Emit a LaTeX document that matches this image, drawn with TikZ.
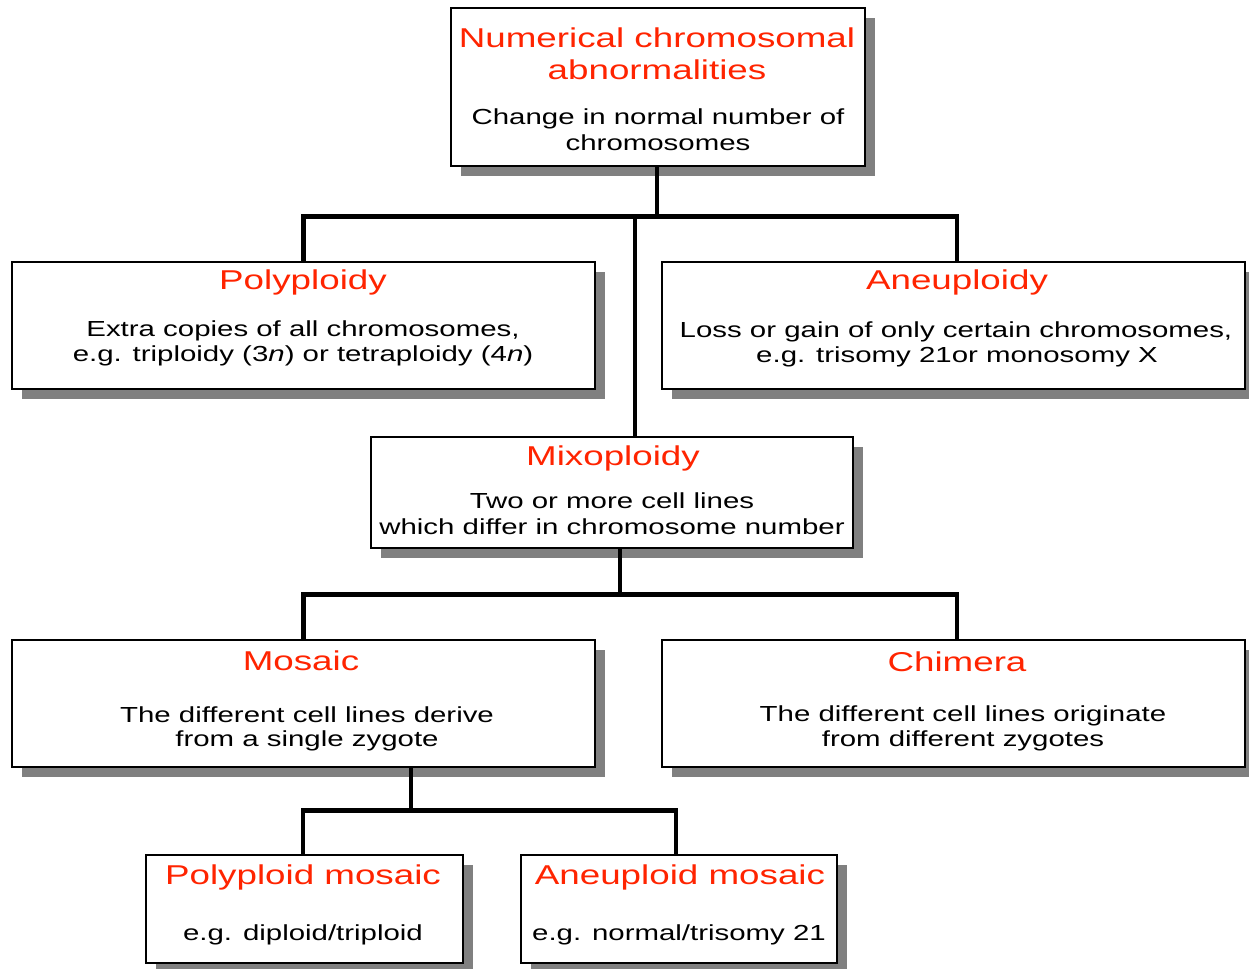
\documentclass[tikz,border=0pt]{standalone}
\usepackage{fontspec}
\setmainfont{Liberation Sans}[FakeStretch=1.35]
\usetikzlibrary{shadows}
\definecolor{titred}{RGB}{255,36,0}
\definecolor{shad}{RGB}{128,128,128}
\begin{document}
\begin{tikzpicture}[x=0.02cm,y=-0.02cm,
  box/.style={draw=black,line width=0.8pt,fill=white,inner sep=0pt,
    drop shadow={shadow xshift=0.2cm,shadow yshift=-0.2cm,fill=shad,opacity=1}},
  conn/.style={line width=2.8pt,black},
  ttl/.style={anchor=base,inner sep=0pt,text=titred,font=\fontsize{15.5}{18}\selectfont},
  txt/.style={anchor=base,inner sep=0pt,text=black,font=\fontsize{12.4}{15}\selectfont}]
\useasboundingbox (0,0) rectangle (1249,969);
\fill[white] (0,0) rectangle (1249,969);
% boxes
\node[box,minimum width=8.28cm,minimum height=3.16cm] (top) at (658,87) {};
\node[box,minimum width=11.66cm,minimum height=2.54cm] (poly) at (303.5,325.5) {};
\node[box,minimum width=11.66cm,minimum height=2.54cm] (aneu) at (953.5,325.5) {};
\node[box,minimum width=9.64cm,minimum height=2.22cm] (mixo) at (612,492.5) {};
\node[box,minimum width=11.66cm,minimum height=2.54cm] (mosaic) at (303.5,703.5) {};
\node[box,minimum width=11.66cm,minimum height=2.54cm] (chim) at (953.5,703.5) {};
\node[box,minimum width=6.34cm,minimum height=2.16cm] (pmos) at (304.5,909) {};
\node[box,minimum width=6.32cm,minimum height=2.16cm] (amos) at (679,909) {};
% connectors
\coordinate (j1) at (635,217);
\coordinate (j2) at (620,595);
\coordinate (j3) at (411,811);
\draw[conn] (poly.north) -- ++(0,-45) -| ([xshift=0.07cm]aneu.north);
\draw[conn] (top.south -| 657,0) -- (j1 -| 657,0);
\draw[conn] (j1) -- (j1 |- mixo.north);
\draw[conn] (j2 |- mixo.south) -- (j2);
\draw[conn] (mosaic.north) -- ++(0,-45) -| ([xshift=0.07cm]chim.north);
\draw[conn] (j3 |- mosaic.south) -- (j3);
\draw[conn] ([xshift=-0.03cm]pmos.north) -- ++(0,-44) -| ([xshift=-0.06cm]amos.north);
% texts
\node[ttl] (t1a) at (657,48) {Numerical chromosomal};
\node[ttl] (t1b) at (657,80) {abnormalities};
\node[txt] (d1a) at (658,125) {Change in normal number of};
\node[txt] (d1b) at (658,151) {chromosomes};
\node[ttl] (t2) at (303,290) {Polyploidy};
\node[txt] (d2a) at (303,337) {Extra copies of all chromosomes,};
\node[txt] (d2b) at (303,362) {e.g. triploidy (3\textit{n}) or tetraploidy (4\textit{n})};
\node[ttl] (t3) at (957,290) {Aneuploidy};
\node[txt] (d3a) at (956,338) {Loss or gain of only certain chromosomes,};
\node[txt] (d3b) at (957,363) {e.g. trisomy 21or monosomy X};
\node[ttl] (t4) at (613,466) {Mixoploidy};
\node[txt] (d4a) at (612,509) {Two or more cell lines};
\node[txt] (d4b) at (612,535) {which differ in chromosome number};
\node[ttl] (t5) at (301,671) {Mosaic};
\node[txt] (d5a) at (307,723) {The different cell lines derive};
\node[txt] (d5b) at (307,747) {from a single zygote};
\node[ttl] (t6) at (957,672) {Chimera};
\node[txt] (d6a) at (963,722) {The different cell lines originate};
\node[txt] (d6b) at (963,747) {from different zygotes};
\node[ttl] (t7) at (303,885) {Polyploid mosaic};
\node[txt] (d7) at (303,940) {e.g. diploid/triploid};
\node[ttl] (t8) at (680,885) {Aneuploid mosaic};
\node[txt] (d8) at (679,940) {e.g. normal/trisomy 21};
\end{tikzpicture}
\end{document}
